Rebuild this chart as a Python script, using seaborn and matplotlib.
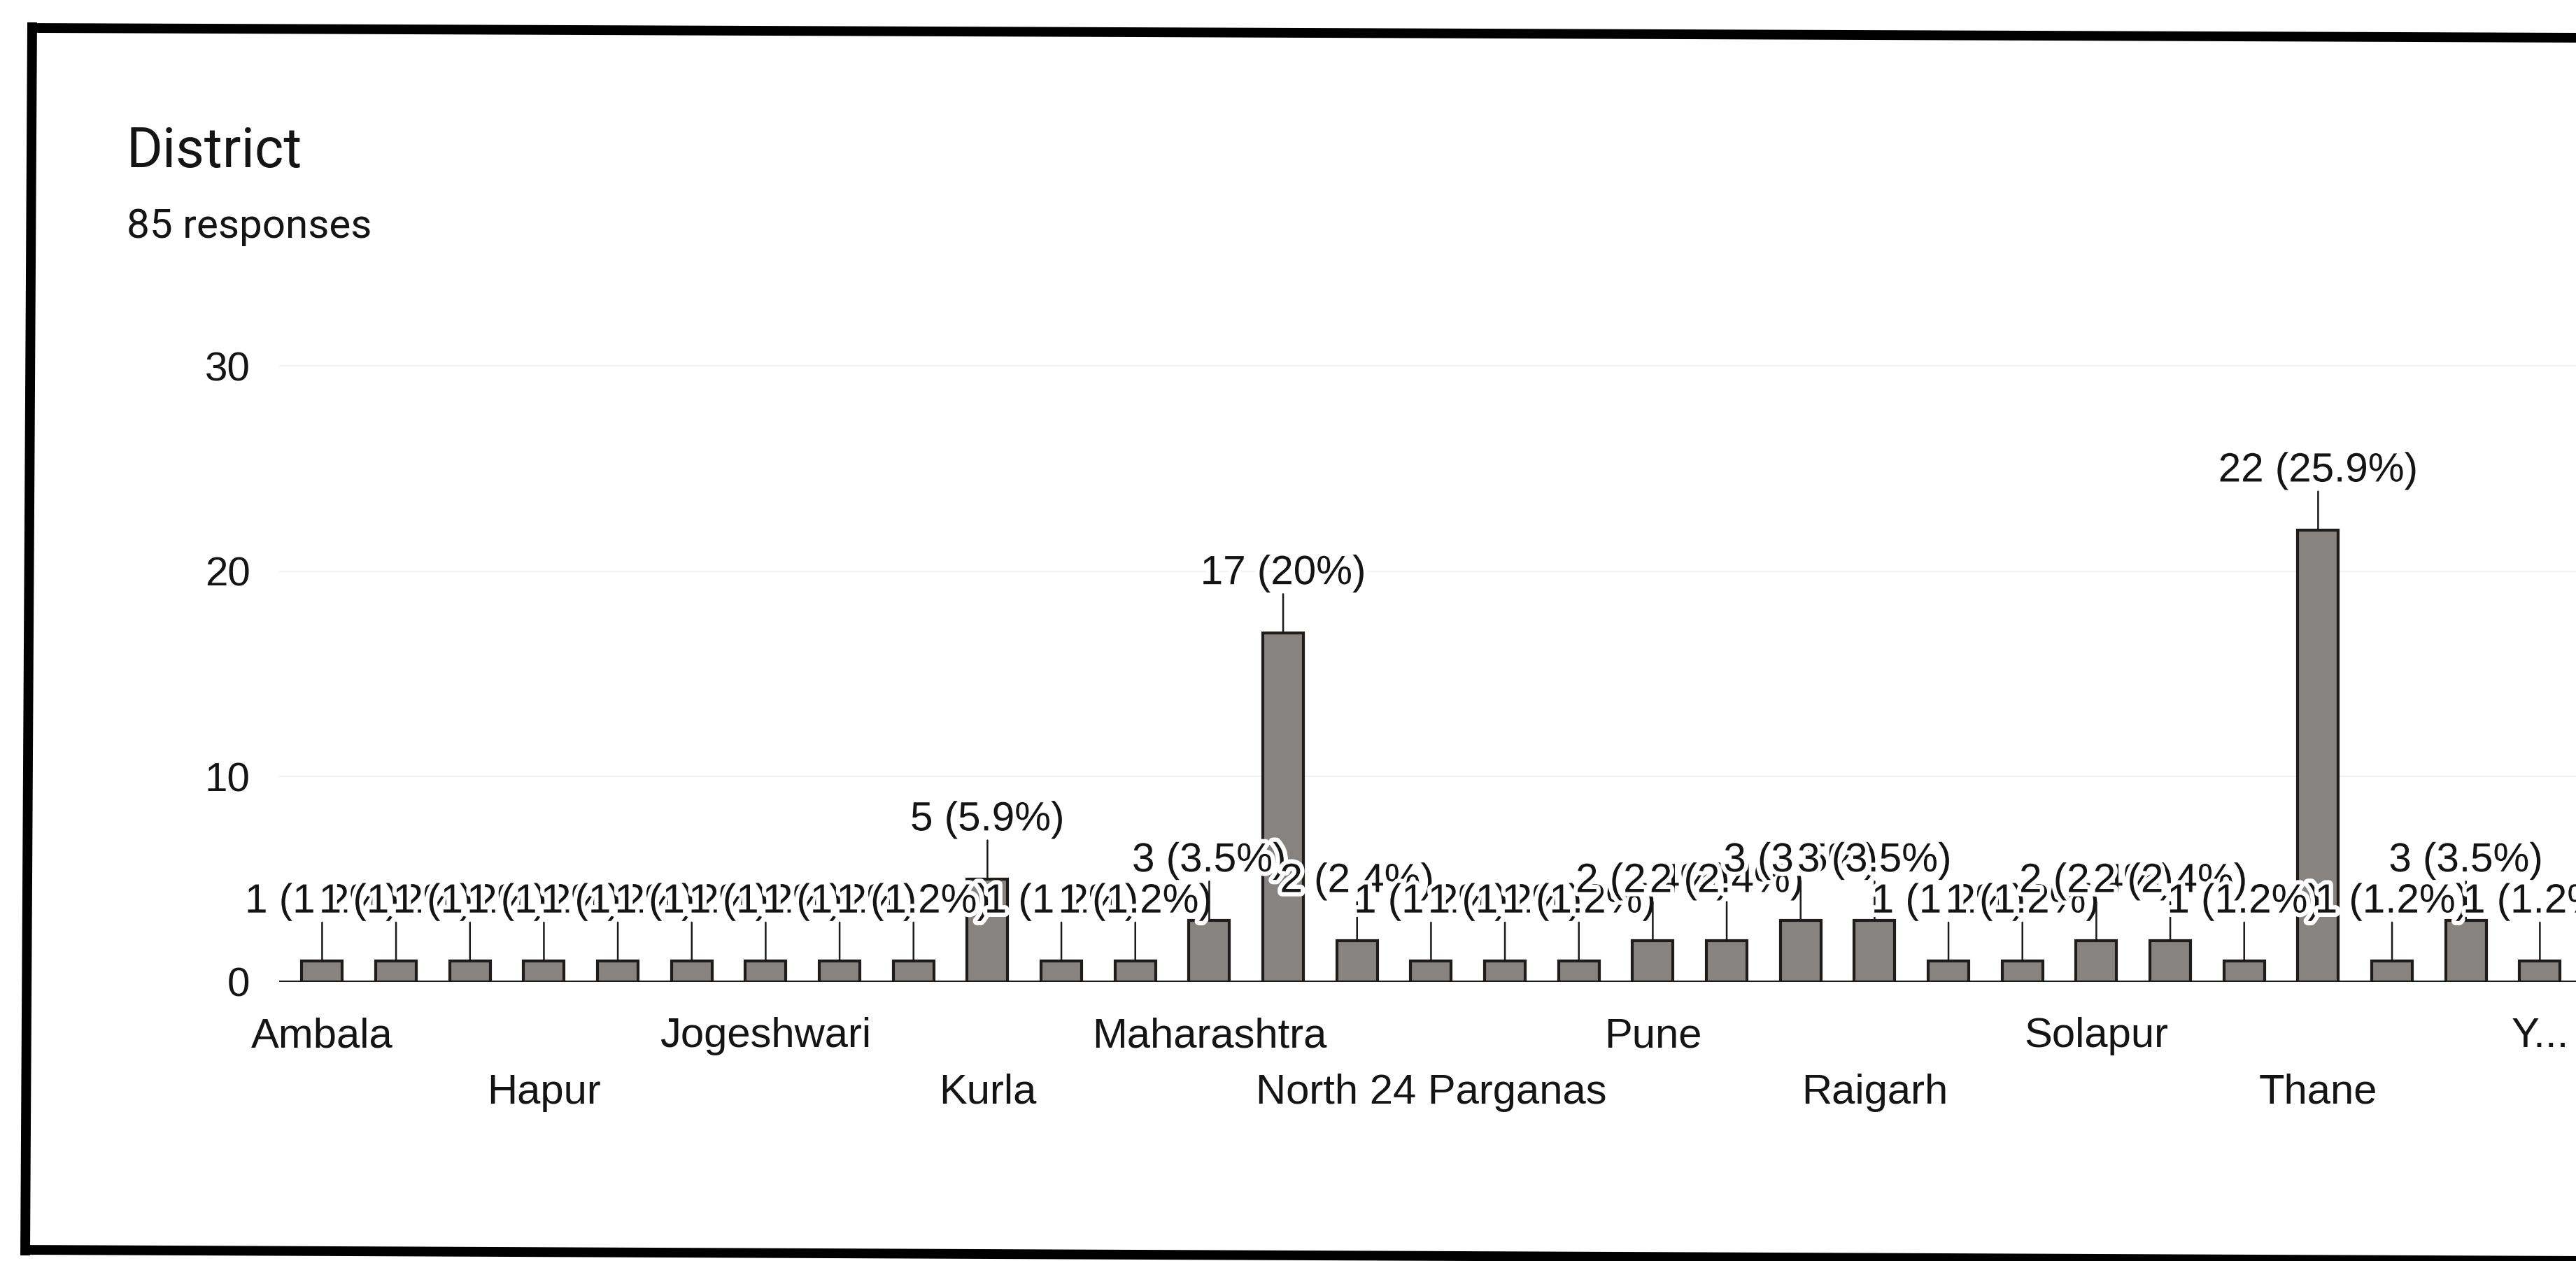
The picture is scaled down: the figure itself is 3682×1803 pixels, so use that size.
import matplotlib
matplotlib.use('Agg')
import pandas as pd
import matplotlib.pyplot as plt
import matplotlib.patheffects as pe
from matplotlib.lines import Line2D
import seaborn as sns

# Google Forms bar chart of the "District" question (photo of a printout)
# one entry per bar; only every third name is printed under the axis
districts = ["Ambala", "", "", "Hapur", "", "", "Jogeshwari", "", "", "Kurla",
             "", "", "Maharashtra", "", "", "North 24 Parganas", "", "",
             "Pune", "", "", "Raigarh", "", "", "Solapur", "", "", "Thane",
             "", "", "Y..."]
counts = [1, 1, 1, 1, 1, 1, 1, 1, 1, 5,
          1, 1, 3, 17, 2, 1, 1, 1,
          2, 2, 3, 3, 1, 1, 2, 2, 1, 22,
          1, 3, 1]
y_ticks = [0, 10, 20, 30]
title = "District"

W, H = 3682, 1803
DPI = 100

sns.set_style("white")
plt.rcParams['font.family'] = ['Liberation Sans', 'DejaVu Sans']
plt.rcParams['text.color'] = '#141414'

fig = plt.figure(figsize=(W / DPI, H / DPI), dpi=DPI)
fig.patch.set_facecolor('white')

# axes placed so the baseline runs off the right edge like in the photo
ax = fig.add_axes([0.1084, 0.2214, 0.8948, 0.4948])
ax.set_facecolor('none')

df = pd.DataFrame({"pos": range(len(counts)), "count": counts})
sns.barplot(data=df, x="pos", y="count", color="#878380", saturation=1,
            width=0.55, edgecolor="#1f1c1b", linewidth=3, ax=ax, zorder=2)

ax.set_xlim(-0.58, 30.6)
ax.set_ylim(0, 30.4)
ax.set_yticks(y_ticks)
ax.set_yticklabels([str(t) for t in y_ticks])
ax.tick_params(axis='y', length=0, pad=30, labelsize=42, labelcolor='#141414')
ax.set_xticks([])
ax.set_xlabel("")
ax.set_ylabel("")
for s in ax.spines.values():
    s.set_visible(False)
ax.yaxis.grid(True, color='#f4f1f1', lw=1.5)
ax.set_axisbelow(True)
ax.axhline(0, color='#1a1a1a', lw=2.8, zorder=2.5)

# data labels with leader lines, drawn left to right with a white halo
total = sum(counts)
halo = [pe.withStroke(linewidth=9, foreground='white')]
for i, v in enumerate(counts):
    pct = "{:.1f}".format(v / total * 100).rstrip('0').rstrip('.')
    ax.annotate("", xy=(i, v), xytext=(0, 40), textcoords='offset points',
                arrowprops=dict(arrowstyle='-', color='#1a1a1a', lw=1.8,
                                shrinkA=0, shrinkB=0),
                zorder=3 + 2 * i, annotation_clip=False)
    ax.annotate("{} ({}%)".format(v, pct), xy=(i, v), xytext=(0, 61),
                textcoords='offset points', ha='center', va='center',
                fontsize=42, color='#141414', path_effects=halo,
                zorder=4 + 2 * i, annotation_clip=False)

# staggered category labels (two rows)
k = 0
for i, name in enumerate(districts):
    if not name:
        continue
    dy = -56 if k % 2 == 0 else -114
    ax.annotate(name, xy=(i, 0), xytext=(0, dy), textcoords='offset points',
                ha='center', va='center', fontsize=43, color='#141414',
                annotation_clip=False)
    k += 1

fig.text(77 / 1568, 1 - 102 / 768, title, fontsize=57, family='Roboto',
         va='baseline', ha='left', color='#141414')
fig.text(77 / 1568, 1 - 145 / 768, "{} responses".format(total), fontsize=42,
         family='Roboto', va='baseline', ha='left', color='#141414')

# black page frame from the photo (slightly tilted)
def px(x, y):
    return x / W, 1 - y / H

for (x0, y0), (x1, y1) in [((46, 40), (3700, 54)),
                           ((46, 32), (36, 1795)),
                           ((30, 1787), (3700, 1803))]:
    a, b = px(x0, y0)
    c, d = px(x1, y1)
    fig.add_artist(Line2D([a, c], [b, d], color='black', lw=10,
                          solid_capstyle='butt', transform=fig.transFigure))

fig.savefig("out.png", dpi=DPI, facecolor='white')
